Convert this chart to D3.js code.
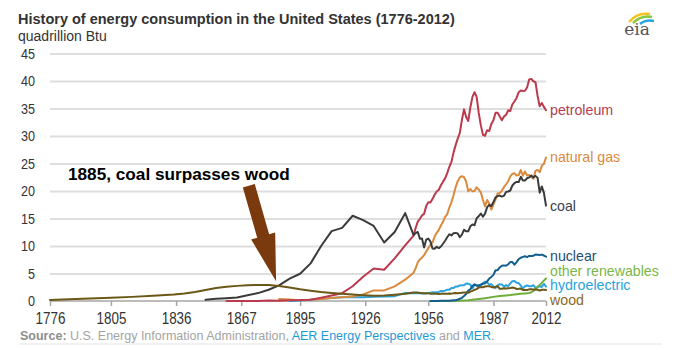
<!DOCTYPE html>
<html>
<head>
<meta charset="utf-8">
<script src="https://cdn.jsdelivr.net/npm/d3@7"></script>
<style>
  html, body { margin: 0; padding: 0; background: #fff; }
  svg { display: block; }
</style>
</head>
<body>
<svg id="chart" width="677" height="350"></svg>
<script>
// ---------------- DATA (quadrillion Btu) ----------------
const xTickYears = [1776, 1805, 1836, 1867, 1895, 1926, 1956, 1987, 2012];
const yTickValues = [0, 5, 10, 15, 20, 25, 30, 35, 40, 45];

const petroleumData = [[1860,0.003],[1865,0.01],[1870,0.011],[1875,0.011],[1880,0.096],[1885,0.04],[1890,0.156],[1895,0.168],[1900,0.229],[1905,0.61],[1910,1.007],[1915,1.418],[1920,2.676],[1925,4.4],[1930,5.895],[1935,5.675],[1940,7.76],[1945,10.11],
 [1949,11.88],[1950,13.32],[1951,14.43],[1952,14.96],[1953,15.56],[1954,15.84],[1955,17.25],[1956,17.94],[1957,17.93],[1958,18.53],[1959,19.32],[1960,19.92],[1961,20.22],[1962,21.05],[1963,21.70],[1964,22.30],[1965,23.25],[1966,24.40],[1967,25.28],[1968,26.98],[1969,28.34],[1970,29.52],[1971,30.56],[1972,32.95],[1973,34.84],[1974,33.45],[1975,32.73],[1976,35.18],[1977,37.12],[1978,37.97],[1979,37.12],[1980,34.20],[1981,31.93],[1982,30.23],[1983,30.05],[1984,31.05],[1985,30.92],[1986,32.20],[1987,32.87],[1988,34.22],[1989,34.21],[1990,33.55],[1991,32.85],[1992,33.53],[1993,33.84],[1994,34.67],[1995,34.55],[1996,35.76],[1997,36.27],[1998,36.93],[1999,37.96],[2000,38.26],[2001,38.19],[2002,38.22],[2003,38.81],[2004,40.29],[2005,40.39],[2006,39.96],[2007,39.77],[2008,37.28],[2009,35.40],[2010,36.01],[2011,35.30],[2012,34.69]];

const naturalGasData = [[1885,0.37],[1890,0.26],[1895,0.15],[1900,0.25],[1905,0.37],[1910,0.54],[1915,0.67],[1920,0.81],[1925,1.19],[1930,1.93],[1935,1.92],[1940,2.67],[1945,3.87],
 [1949,5.15],[1950,5.97],[1951,7.05],[1952,7.55],[1953,7.91],[1954,8.33],[1955,9.00],[1956,9.61],[1957,10.19],[1958,10.66],[1959,11.72],[1960,12.39],[1961,12.93],[1962,13.73],[1963,14.40],[1964,15.29],[1965,15.77],[1966,16.99],[1967,17.94],[1968,19.21],[1969,20.68],[1970,21.79],[1971,22.47],[1972,22.70],[1973,22.51],[1974,21.73],[1975,19.95],[1976,20.35],[1977,19.93],[1978,20.00],[1979,20.67],[1980,20.24],[1981,19.75],[1982,18.36],[1983,17.20],[1984,18.38],[1985,17.70],[1986,16.59],[1987,17.63],[1988,18.45],[1989,19.60],[1990,19.60],[1991,20.03],[1992,20.71],[1993,21.23],[1994,21.73],[1995,22.67],[1996,23.09],[1997,23.22],[1998,22.83],[1999,22.91],[2000,23.82],[2001,22.77],[2002,23.56],[2003,22.83],[2004,22.91],[2005,22.56],[2006,22.22],[2007,23.66],[2008,23.84],[2009,23.42],[2010,24.57],[2011,24.95],[2012,26.09]];

const coalData = [[1850,0.22],[1855,0.42],[1860,0.52],[1865,0.63],[1870,1.05],[1875,1.44],[1880,2.05],[1885,2.84],[1890,4.06],[1895,4.95],[1900,6.84],[1905,10.0],[1910,12.71],[1915,13.29],[1920,15.50],[1925,14.71],[1930,13.64],[1935,10.63],[1940,12.54],[1945,15.97],
 [1949,11.98],[1950,12.35],[1951,12.55],[1952,11.31],[1953,11.37],[1954,9.71],[1955,11.17],[1956,11.35],[1957,10.82],[1958,9.53],[1959,9.52],[1960,9.84],[1961,9.62],[1962,9.91],[1963,10.41],[1964,10.96],[1965,11.58],[1966,12.14],[1967,11.91],[1968,12.33],[1969,12.38],[1970,12.27],[1971,11.60],[1972,12.08],[1973,12.97],[1974,12.66],[1975,12.66],[1976,13.58],[1977,13.92],[1978,13.77],[1979,15.04],[1980,15.42],[1981,15.91],[1982,15.32],[1983,15.89],[1984,17.07],[1985,17.48],[1986,17.26],[1987,18.01],[1988,18.85],[1989,19.07],[1990,19.17],[1991,18.99],[1992,19.12],[1993,19.84],[1994,19.91],[1995,20.09],[1996,21.00],[1997,21.45],[1998,21.66],[1999,21.62],[2000,22.58],[2001,21.91],[2002,21.90],[2003,22.32],[2004,22.47],[2005,22.80],[2006,22.45],[2007,22.75],[2008,22.39],[2009,19.69],[2010,20.83],[2011,19.66],[2012,17.34]];

const nuclearData = [[1957,0.0],[1958,0.002],[1960,0.006],[1962,0.026],[1964,0.04],[1966,0.064],[1968,0.142],[1969,0.154],[1970,0.239],[1971,0.413],[1972,0.584],[1973,0.910],[1974,1.272],[1975,1.900],[1976,2.111],[1977,2.702],[1978,3.024],[1979,2.776],[1980,2.739],[1981,3.008],[1982,3.131],[1983,3.203],[1984,3.553],[1985,4.076],[1986,4.380],[1987,4.754],[1988,5.587],[1989,5.602],[1990,6.104],[1991,6.422],[1992,6.479],[1993,6.410],[1994,6.694],[1995,7.075],[1996,7.087],[1997,6.597],[1998,7.068],[1999,7.610],[2000,7.862],[2001,8.029],[2002,8.145],[2003,7.960],[2004,8.223],[2005,8.161],[2006,8.215],[2007,8.459],[2008,8.426],[2009,8.356],[2010,8.434],[2011,8.269],[2012,8.062]];

const otherRenewablesData = [[1957,0.0],[1960,0.01],[1965,0.02],[1970,0.05],[1975,0.15],[1980,0.38],[1983,0.52],[1985,0.62],[1987,0.75],[1990,0.92],[1993,1.02],[1995,1.1],[1997,1.2],[2000,1.3],[2002,1.38],[2004,1.45],[2005,1.6],[2006,1.85],[2007,2.1],[2008,2.6],[2009,2.9],[2010,3.3],[2011,3.7],[2012,4.1]];

const hydroelectricData = [[1890,0.02],[1895,0.09],[1900,0.25],[1905,0.39],[1910,0.54],[1915,0.66],[1920,0.74],[1925,0.67],[1930,0.75],[1935,0.83],[1940,0.88],[1945,1.44],
 [1949,1.425],[1950,1.415],[1951,1.424],[1952,1.466],[1953,1.413],[1954,1.360],[1955,1.360],[1956,1.435],[1957,1.516],[1958,1.592],[1959,1.548],[1960,1.608],[1961,1.656],[1962,1.816],[1963,1.771],[1964,1.886],[1965,2.059],[1966,2.062],[1967,2.347],[1968,2.349],[1969,2.648],[1970,2.634],[1971,2.824],[1972,2.864],[1973,2.861],[1974,3.177],[1975,3.155],[1976,2.976],[1977,2.333],[1978,2.937],[1979,2.931],[1980,2.900],[1981,2.758],[1982,3.266],[1983,3.527],[1984,3.386],[1985,2.970],[1986,3.071],[1987,2.635],[1988,2.334],[1989,2.837],[1990,3.046],[1991,3.016],[1992,2.617],[1993,2.892],[1994,2.683],[1995,3.205],[1996,3.590],[1997,3.640],[1998,3.297],[1999,3.268],[2000,2.811],[2001,2.242],[2002,2.689],[2003,2.825],[2004,2.690],[2005,2.703],[2006,2.869],[2007,2.446],[2008,2.511],[2009,2.669],[2010,2.539],[2011,3.103],[2012,2.629]];

const woodData = [[1776,0.2],[1785,0.32],[1795,0.45],[1805,0.6],[1815,0.75],[1825,0.95],[1835,1.18],[1840,1.35],[1845,1.65],[1850,2.0],[1855,2.35],[1860,2.6],[1865,2.75],[1870,2.85],[1875,2.92],[1880,2.9],[1885,2.72],[1890,2.45],[1895,2.12],[1900,1.85],[1905,1.62],[1910,1.45],[1915,1.32],[1920,1.2],[1925,1.06],[1930,0.95],[1935,0.98],[1940,1.12],[1945,1.3],
 [1949,1.549],[1950,1.562],[1951,1.535],[1952,1.474],[1953,1.419],[1954,1.394],[1955,1.424],[1956,1.416],[1957,1.334],[1958,1.323],[1959,1.353],[1960,1.320],[1961,1.295],[1962,1.300],[1963,1.323],[1964,1.337],[1965,1.335],[1966,1.369],[1967,1.340],[1968,1.419],[1969,1.440],[1970,1.429],[1971,1.432],[1972,1.503],[1973,1.527],[1974,1.538],[1975,1.497],[1976,1.713],[1977,1.838],[1978,2.038],[1979,2.152],[1980,2.476],[1981,2.496],[1982,2.507],[1983,2.624],[1984,2.685],[1985,2.687],[1986,2.562],[1987,2.463],[1988,2.577],[1989,2.680],[1990,2.216],[1991,2.214],[1992,2.313],[1993,2.260],[1994,2.324],[1995,2.370],[1996,2.437],[1997,2.371],[1998,2.184],[1999,2.214],[2000,2.262],[2001,2.006],[2002,1.995],[2003,2.002],[2004,2.121],[2005,2.136],[2006,2.109],[2007,2.098],[2008,2.044],[2009,1.891],[2010,2.035],[2011,2.052],[2012,1.989]];

const seriesNames  = ["hydroelectric", "other renewables", "nuclear", "natural gas", "petroleum", "coal", "wood"];
const seriesData   = [hydroelectricData, otherRenewablesData, nuclearData, naturalGasData, petroleumData, coalData, woodData];
const lineColors   = ["#2ba3dd", "#6fad3c", "#155f8e", "#d98a3d", "#bb3a4d", "#3b3b3b", "#6b5716"];
const labelColors  = ["#2ba3dd", "#7ab648", "#1d4f76", "#d98a3d", "#b53c50", "#3a4350", "#8a6a2a"];

const annotationText = "1885, coal surpasses wood";

// ---------------- CHART ----------------
const svg = d3.select("#chart");
const x = d3.scaleLinear().domain([1776, 2012]).range([50, 546]);
const y = d3.scaleLinear().domain([0, 45]).range([301, 53.5]);

const sans = "'Liberation Sans', Arial, Helvetica, sans-serif";

// condense text (no narrow font installed)
function condense(sel, k) {
  sel.each(function () {
    const w = this.getComputedTextLength();
    d3.select(this).attr("textLength", w * k).attr("lengthAdjust", "spacingAndGlyphs");
  });
}

// title
svg.append("text").attr("x", 18).attr("y", 24)
  .attr("font-family", sans).attr("font-weight", "bold").attr("font-size", 14.5)
  .attr("fill", "#333").text("History of energy consumption in the United States (1776-2012)");
svg.append("text").attr("x", 18).attr("y", 40.5)
  .attr("font-family", sans).attr("font-size", 14)
  .attr("fill", "#333").text("quadrillion Btu");

// gridlines + y labels
const yAxis = d3.axisLeft(y).tickValues(yTickValues).tickSize(-(546 - 50)).tickPadding(15);
const gy = svg.append("g").attr("transform", "translate(50,0)").call(yAxis);
gy.select(".domain").remove();
gy.selectAll(".tick line").attr("stroke", "#dedede").attr("stroke-width", 2)
  .filter(d => d === 0).remove();
gy.selectAll(".tick text").attr("font-family", sans).attr("font-size", 15).attr("fill", "#333")
  .call(condense, 0.84);

// x axis
const xAxis = d3.axisBottom(x).tickValues(xTickYears).tickFormat(d3.format("d")).tickSize(5).tickPadding(7);
const gx = svg.append("g").attr("transform", "translate(0,301)").call(xAxis);
gx.select(".domain").attr("stroke", "#a6a6a6").attr("stroke-width", 1.5).attr("d", "M50,0H546");
gx.selectAll(".tick line").attr("stroke", "#a6a6a6").attr("stroke-width", 1.5);
gx.selectAll(".tick text").attr("font-family", sans).attr("font-size", 16).attr("fill", "#333")
  .call(condense, 0.84);

// lines
const line = d3.line().x(d => x(d[0])).y(d => y(d[1]));
svg.append("g").selectAll("path").data(seriesData).join("path")
  .attr("d", line).attr("fill", "none")
  .attr("stroke", (d, i) => lineColors[i]).attr("stroke-width", 2)
  .attr("stroke-linejoin", "round").attr("stroke-linecap", "round");

// end labels with simple collision avoidance
const labels = seriesNames.map((n, i) => ({ name: n, color: labelColors[i], y: y(seriesData[i][seriesData[i].length - 1][1]) }));
labels.sort((a, b) => a.y - b.y);
const gap = 14.6;
for (let iter = 0; iter < 60; iter++) {
  for (let i = 1; i < labels.length; i++) {
    const d = labels[i].y - labels[i - 1].y;
    if (d < gap) { const s = (gap - d) / 2; labels[i].y += s; labels[i - 1].y -= s; }
  }
}
svg.append("g").selectAll("text").data(labels).join("text")
  .attr("x", 550).attr("y", d => d.y).attr("dy", "0.35em")
  .attr("font-family", sans).attr("font-size", 14.2)
  .attr("fill", d => d.color).text(d => d.name);

// annotation
svg.append("text").attr("x", 68).attr("y", 180)
  .attr("font-family", sans).attr("font-weight", "bold").attr("font-size", 17.2)
  .attr("fill", "#000").text(annotationText);

// arrow
const tail = [248.8, 185.8], tip = [x(1885) - 3, y(3.6)];
const dx = tip[0] - tail[0], dy = tip[1] - tail[1], len = Math.hypot(dx, dy);
const u = [dx / len, dy / len], n = [-u[1], u[0]];
const sw = 6.2, hw = 12.5, hl = 47;
const neck = [tip[0] - u[0] * hl, tip[1] - u[1] * hl];
const P = (p, k) => [p[0] + n[0] * k, p[1] + n[1] * k];
const pts = [P(tail, sw), P(neck, sw), P(neck, hw), tip, P(neck, -hw), P(neck, -sw), P(tail, -sw)];
svg.append("path").attr("d", "M" + pts.map(p => p.join(",")).join("L") + "Z")
  .attr("fill", "#7b3a0d");

// source
const src = svg.append("text").attr("x", 20).attr("y", 340)
  .attr("font-family", sans).attr("font-size", 12.5).attr("fill", "#a3a3a3");
src.append("tspan").attr("font-weight", "bold").attr("fill", "#8e8e8e").text("Source:");
src.append("tspan").text(" U.S. Energy Information Administration, ");
src.append("tspan").attr("fill", "#1d9ad6").text("AER Energy Perspectives");
src.append("tspan").text(" and ");
src.append("tspan").attr("fill", "#1d9ad6").text("MER");
src.append("tspan").text(".");
svg.append("line").attr("x1", 20).attr("x2", 662).attr("y1", 344).attr("y2", 344)
  .attr("stroke", "#e3e3e3").attr("stroke-width", 1);

// eia logo
const logo = svg.append("g");
logo.append("path").attr("d", "M629,22 Q637,12 650,14").attr("fill", "none").attr("stroke", "#f4c31f").attr("stroke-width", 2.5);
logo.append("path").attr("d", "M633,23 Q641,15 652,17").attr("fill", "none").attr("stroke", "#8cc63f").attr("stroke-width", 2.5);
logo.append("path").attr("d", "M640,24 Q646,19 654,21").attr("fill", "none").attr("stroke", "#25a6de").attr("stroke-width", 2.5);
logo.append("text").attr("x", 637).attr("y", 35).attr("text-anchor", "middle")
  .attr("font-family", "'DejaVu Serif', serif").attr("font-size", 17).attr("fill", "#555").text("eia");
</script>
</body>
</html>
